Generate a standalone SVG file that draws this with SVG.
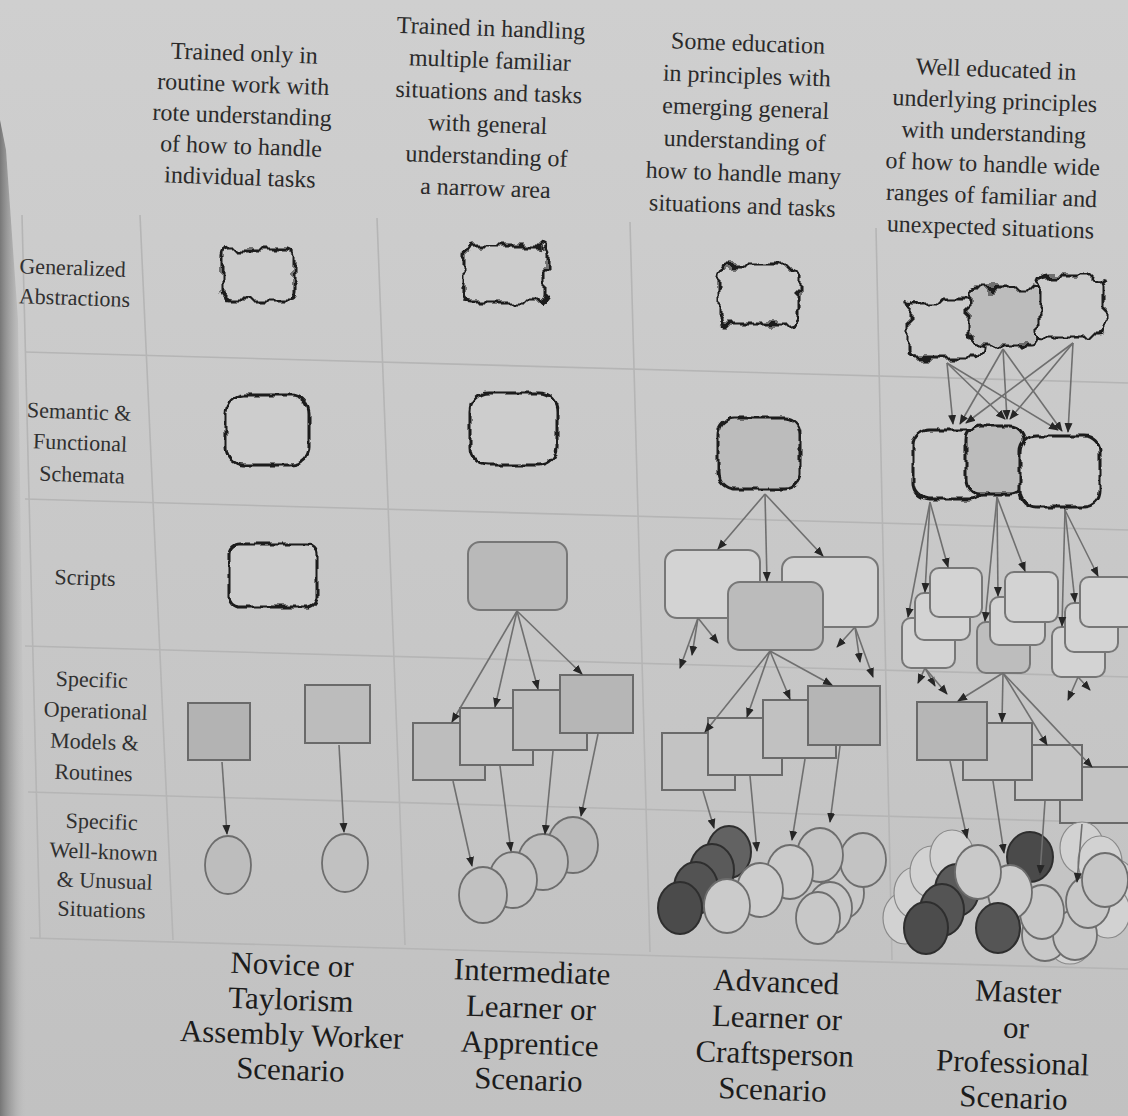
<svg xmlns="http://www.w3.org/2000/svg" width="1128" height="1116" viewBox="0 0 1128 1116">
<defs>
<linearGradient id="bgG" x1="0" y1="0" x2="0" y2="1"><stop offset="0" stop-color="#cfcfcf"/><stop offset="1" stop-color="#c1c1c1"/></linearGradient>
<linearGradient id="edgeG" x1="0" y1="0" x2="1" y2="0"><stop offset="0" stop-color="#6e6e6e" stop-opacity="0.9"/><stop offset="0.45" stop-color="#8f8f8f" stop-opacity="0.5"/><stop offset="1" stop-color="#c6c6c6" stop-opacity="0"/></linearGradient>
<filter id="rough1" x="-30%" y="-30%" width="160%" height="160%"><feTurbulence type="fractalNoise" baseFrequency="0.065" numOctaves="2" seed="7" result="n"/><feDisplacementMap in="SourceGraphic" in2="n" scale="17" xChannelSelector="R" yChannelSelector="G"/></filter>
<filter id="rough2" x="-25%" y="-25%" width="150%" height="150%"><feTurbulence type="fractalNoise" baseFrequency="0.13" numOctaves="1" seed="3" result="n"/><feDisplacementMap in="SourceGraphic" in2="n" scale="6" xChannelSelector="R" yChannelSelector="G"/></filter>
<marker id="ah" viewBox="0 0 10 10" refX="9" refY="5" markerWidth="10" markerHeight="10" markerUnits="userSpaceOnUse" orient="auto"><path d="M0,1 L10,5 L0,9 z" fill="#262626"/></marker>
</defs>
<style>
.grid line{stroke:#b5b5b5;stroke-width:1.6}
.t{font-family:"Liberation Serif","Times New Roman",serif;text-anchor:middle}
.hd{font-size:24px;fill:#2a2a2a}
.rl{font-size:22px;fill:#303030}
.bt{font-size:31px;fill:#1c1c1c}
.gen{fill:#cccccc;stroke:#1a1a1a;stroke-width:3;filter:url(#rough1)}
.sem{fill:#cdcdcd;stroke:#1a1a1a;stroke-width:3;filter:url(#rough2)}
.gray{fill:#bcbcbc}
.rr{stroke:#777777;stroke-width:2}
.lt{fill:#d3d3d3}
.md{fill:#bdbdbd}
.op{stroke:#6a6a6a;stroke-width:2}
.c{stroke:#6d6d6d;stroke-width:1.8}
.cl{fill:#c8c8c8}
.dk{stroke:#2e2e2e;stroke-width:2}
.gh{fill:#d2d2d2;stroke:#8a8a8a;stroke-width:1.2}
.edge path{fill:none;stroke:#6f6f6f;stroke-width:1.6;marker-end:url(#ah)}
</style>

<rect width="1128" height="1116" fill="url(#bgG)"/>
<polygon points="0,120 6,150 18,320 28,1116 0,1116" fill="url(#edgeG)"/>

<g class="grid">
<line x1="25" y1="352" x2="1128" y2="383"/>
<line x1="25" y1="499" x2="1128" y2="530"/>
<line x1="25" y1="646" x2="1128" y2="677"/>
<line x1="28" y1="792" x2="1128" y2="823"/>
<line x1="30" y1="938" x2="1128" y2="969"/>
<line x1="22" y1="215" x2="40" y2="938"/>
<line x1="140" y1="215" x2="173" y2="940"/>
<line x1="377" y1="218" x2="405" y2="945"/>
<line x1="630" y1="222" x2="650" y2="952"/>
<line x1="876" y1="228" x2="892" y2="960"/>
</g>

<!-- column headers -->
<g id="header-novice"><text class="t hd" transform="rotate(2 242 120)"><tspan x="242" y="61">Trained only in</tspan><tspan x="242" y="92">routine work with</tspan><tspan x="242" y="123">rote understanding</tspan><tspan x="242" y="154">of how to handle</tspan><tspan x="242" y="185">individual tasks</tspan></text></g>
<g id="header-intermediate"><text class="t hd" transform="rotate(2 488 115)"><tspan x="488" y="36">Trained in handling</tspan><tspan x="488" y="68">multiple familiar</tspan><tspan x="488" y="100">situations and tasks</tspan><tspan x="488" y="132">with general</tspan><tspan x="488" y="164">understanding of</tspan><tspan x="488" y="196">a narrow area</tspan></text></g>
<g id="header-advanced"><text class="t hd" transform="rotate(2 745 130)"><tspan x="745" y="51">Some education</tspan><tspan x="745" y="83.5">in principles with</tspan><tspan x="745" y="116">emerging general</tspan><tspan x="745" y="148.5">understanding of</tspan><tspan x="745" y="181">how to handle many</tspan><tspan x="745" y="213.5">situations and tasks</tspan></text></g>
<g id="header-master"><text class="t hd" transform="rotate(2 993 155)"><tspan x="993" y="77">Well educated in</tspan><tspan x="993" y="108.6">underlying principles</tspan><tspan x="993" y="140.2">with understanding</tspan><tspan x="993" y="171.8">of how to handle wide</tspan><tspan x="993" y="203.4">ranges of familiar and</tspan><tspan x="993" y="235">unexpected situations</tspan></text></g>

<!-- row labels -->
<g id="row-generalized"><text class="t rl" transform="rotate(2 72 285)"><tspan x="72" y="275">Generalized</tspan><tspan x="75" y="305">Abstractions</tspan></text></g>
<g id="row-semantic"><text class="t rl" transform="rotate(2 80 445)"><tspan x="78" y="419">Semantic &amp;</tspan><tspan x="80" y="450">Functional</tspan><tspan x="83" y="482">Schemata</tspan></text></g>
<g id="row-scripts"><text class="t rl" transform="rotate(2 85 580)"><tspan x="85" y="585">Scripts</tspan></text></g>
<g id="row-operational"><text class="t rl" transform="rotate(2 93 730)"><tspan x="90" y="687">Specific</tspan><tspan x="95" y="718">Operational</tspan><tspan x="95" y="749">Models &amp;</tspan><tspan x="95" y="780">Routines</tspan></text></g>
<g id="row-situations"><text class="t rl" transform="rotate(2 103 870)"><tspan x="100" y="829">Specific</tspan><tspan x="103" y="859">Well-known</tspan><tspan x="105" y="888">&amp; Unusual</tspan><tspan x="103" y="917">Situations</tspan></text></g>

<!-- bottom labels -->
<g id="label-novice"><text class="t bt" transform="rotate(2 292 1025)"><tspan x="290" y="975">Novice or</tspan><tspan x="290" y="1010">Taylorism</tspan><tspan x="292" y="1045">Assembly Worker</tspan><tspan x="292" y="1080">Scenario</tspan></text></g>
<g id="label-intermediate"><text class="t bt" transform="rotate(2 530 1035)"><tspan x="530" y="982">Intermediate</tspan><tspan x="530" y="1018">Learner or</tspan><tspan x="530" y="1054">Apprentice</tspan><tspan x="530" y="1090">Scenario</tspan></text></g>
<g id="label-advanced"><text class="t bt" transform="rotate(2 775 1045)"><tspan x="774" y="992">Advanced</tspan><tspan x="776" y="1028">Learner or</tspan><tspan x="775" y="1064">Craftsperson</tspan><tspan x="774" y="1100">Scenario</tspan></text></g>
<g id="label-master"><text class="t bt" transform="rotate(2 1014 1055)"><tspan x="1016" y="1002">Master</tspan><tspan x="1015" y="1038">or</tspan><tspan x="1013" y="1073">Professional</tspan><tspan x="1015" y="1108">Scenario</tspan></text></g>

<!-- Novice column -->
<g id="n1-gen"><rect class="gen" x="221" y="249" width="73" height="53" rx="8"/></g>
<g id="n1-sem"><rect class="sem" x="226" y="395" width="83" height="70" rx="18"/></g>
<g id="n1-script"><rect class="sem" x="229" y="544" width="88" height="63" rx="10"/></g>
<g id="n1-op1"><rect class="op" x="188" y="703" width="62" height="57" fill="#b3b3b3"/></g>
<g id="n1-op2"><rect class="op" x="305" y="685" width="65" height="58" fill="#bcbcbc"/></g>
<g id="n1-s1"><ellipse class="c" cx="228" cy="865" rx="23" ry="29" fill="#bdbdbd"/></g>
<g id="n1-s2"><ellipse class="c" cx="345" cy="863" rx="23" ry="29" fill="#c1c1c1"/></g>

<!-- Intermediate column -->
<g id="n2-gen"><rect class="gen" x="464" y="246" width="82" height="56" rx="8"/></g>
<g id="n2-sem"><rect class="sem" x="470" y="393" width="87" height="72" rx="18"/></g>
<g id="n2-script"><rect class="rr" x="468" y="542" width="99" height="68" rx="12" fill="#b9b9b9"/></g>
<g id="n2-opA"><rect class="op" x="413" y="723" width="72" height="57" fill="#bdbdbd"/></g>
<g id="n2-opB"><rect class="op" x="460" y="708" width="73" height="57" fill="#c3c3c3"/></g>
<g id="n2-opC"><rect class="op" x="513" y="690" width="74" height="60" fill="#bebebe"/></g>
<g id="n2-opD"><rect class="op" x="560" y="675" width="73" height="58" fill="#b6b6b6"/></g>
<g id="n2-s4"><ellipse class="c" cx="573" cy="845" rx="25" ry="28" fill="#bbbbbb"/></g>
<g id="n2-s3"><ellipse class="c" cx="543" cy="862" rx="25" ry="28" fill="#c0c0c0"/></g>
<g id="n2-s2"><ellipse class="c" cx="513" cy="880" rx="24" ry="28" fill="#c4c4c4"/></g>
<g id="n2-s1"><ellipse class="c" cx="483" cy="895" rx="24" ry="28" fill="#c1c1c1"/></g>

<!-- Advanced column -->
<g id="n3-gen"><rect class="gen" x="718" y="266" width="81" height="58" rx="8"/></g>
<g id="n3-sem"><rect class="sem gray" x="718" y="418" width="82" height="71" rx="16"/></g>
<g id="n3-scriptL"><rect class="rr lt" x="665" y="550" width="95" height="68" rx="12"/></g>
<g id="n3-scriptR"><rect class="rr lt" x="782" y="557" width="96" height="70" rx="12"/></g>
<g id="n3-scriptC"><rect class="rr" x="728" y="582" width="95" height="68" rx="12" fill="#bbbbbb"/></g>
<g id="n3-opA"><rect class="op" x="662" y="733" width="73" height="57" fill="#c3c3c3"/></g>
<g id="n3-opB"><rect class="op" x="708" y="718" width="74" height="57" fill="#c6c6c6"/></g>
<g id="n3-opC"><rect class="op" x="763" y="700" width="73" height="58" fill="#c1c1c1"/></g>
<g id="n3-opD"><rect class="op" x="808" y="686" width="72" height="59" fill="#b5b5b5"/></g>
<g id="n3-situations">
<ellipse class="c cl" cx="842" cy="893" rx="22" ry="26"/>
<ellipse class="c cl" cx="830" cy="908" rx="22" ry="26"/>
<ellipse class="c cl" cx="818" cy="918" rx="22" ry="26"/>
<ellipse class="dk" cx="729" cy="852" rx="22" ry="26" fill="#626262"/>
<ellipse class="dk" cx="712" cy="870" rx="22" ry="26" fill="#5a5a5a"/>
<ellipse class="dk" cx="696" cy="888" rx="22" ry="26" fill="#535353"/>
<ellipse class="dk" cx="680" cy="908" rx="22" ry="26" fill="#4b4b4b"/>
<ellipse class="c" cx="863" cy="860" rx="23" ry="27" fill="#c3c3c3"/>
<ellipse class="c" cx="820" cy="855" rx="23" ry="27" fill="#c3c3c3"/>
<ellipse class="c" cx="790" cy="872" rx="23" ry="27" fill="#cacaca"/>
<ellipse class="c" cx="760" cy="890" rx="23" ry="27" fill="#cdcdcd"/>
<ellipse class="c" cx="727" cy="906" rx="23" ry="27" fill="#cbcbcb"/>
</g>

<!-- Master column -->
<g id="n4-genL"><rect class="gen" x="908" y="301" width="76" height="56" rx="8"/></g>
<g id="n4-genM"><rect class="gen gray" x="969" y="288" width="72" height="56" rx="8"/></g>
<g id="n4-genR"><rect class="gen" x="1038" y="276" width="66" height="61" rx="8"/></g>
<g id="n4-semL"><rect class="sem" x="913" y="430" width="72" height="69" rx="16"/></g>
<g id="n4-semM"><rect class="sem gray" x="966" y="426" width="58" height="68" rx="14"/></g>
<g id="n4-semR"><rect class="sem" x="1020" y="436" width="80" height="71" rx="16"/></g>
<g id="n4-script1">
<rect class="rr lt" x="902" y="618" width="53" height="50" rx="9"/>
<rect class="rr lt" x="915" y="593" width="55" height="47" rx="9"/>
<rect class="rr lt" x="930" y="568" width="52" height="49" rx="9"/>
</g>
<g id="n4-script2">
<rect class="rr" x="977" y="622" width="53" height="51" rx="9" fill="#bdbdbd"/>
<rect class="rr lt" x="990" y="597" width="55" height="48" rx="9"/>
<rect class="rr lt" x="1005" y="572" width="53" height="50" rx="9"/>
</g>
<g id="n4-script3">
<rect class="rr lt" x="1052" y="627" width="53" height="50" rx="9"/>
<rect class="rr lt" x="1065" y="603" width="53" height="49" rx="9"/>
<rect class="rr lt" x="1080" y="577" width="55" height="50" rx="9"/>
</g>
<g id="n4-opD"><rect class="op" x="1060" y="767" width="72" height="56" fill="#c3c3c3"/></g>
<g id="n4-opC"><rect class="op" x="1015" y="745" width="67" height="55" fill="#c6c6c6"/></g>
<g id="n4-opB"><rect class="op" x="963" y="723" width="69" height="57" fill="#c3c3c3"/></g>
<g id="n4-opA"><rect class="op" x="917" y="702" width="70" height="58" fill="#b6b6b6"/></g>
<g id="n4-situations">
<ellipse class="gh" cx="905" cy="918" rx="22" ry="26"/>
<ellipse class="gh" cx="916" cy="893" rx="22" ry="26"/>
<ellipse class="gh" cx="932" cy="872" rx="22" ry="26"/>
<ellipse class="gh" cx="952" cy="856" rx="22" ry="26"/>
<ellipse class="gh" cx="1082" cy="848" rx="22" ry="26"/>
<ellipse class="gh" cx="1100" cy="862" rx="22" ry="26"/>
<ellipse class="gh" cx="1114" cy="885" rx="22" ry="26"/>
<ellipse class="gh" cx="1108" cy="912" rx="22" ry="26"/>
<ellipse class="gh" cx="1070" cy="942" rx="22" ry="22"/>
<ellipse class="dk" cx="1030" cy="857" rx="23" ry="25" fill="#4a4a4a"/>
<ellipse class="c cl" cx="1045" cy="935" rx="23" ry="26"/>
<ellipse class="c cl" cx="1075" cy="935" rx="22" ry="25"/>
<ellipse class="c cl" cx="1088" cy="902" rx="22" ry="26"/>
<ellipse class="c" cx="1105" cy="880" rx="23" ry="27" fill="#c6c6c6"/>
<ellipse class="c cl" cx="1042" cy="912" rx="22" ry="27"/>
<ellipse class="c" cx="1010" cy="892" rx="22" ry="27" fill="#cbcbcb"/>
<ellipse class="dk" cx="998" cy="928" rx="22" ry="25" fill="#555555"/>
<ellipse class="dk" cx="957" cy="890" rx="22" ry="26" fill="#5a5a5a"/>
<ellipse class="dk" cx="942" cy="910" rx="22" ry="26" fill="#545454"/>
<ellipse class="dk" cx="926" cy="928" rx="22" ry="26" fill="#4c4c4c"/>
<ellipse class="c" cx="978" cy="872" rx="23" ry="27" fill="#c9c9c9"/>
</g>

<!-- connectors -->
<g id="connectors" class="edge">
<path d="M222,762 L227,834"/>
<path d="M339,745 L344,832"/>
<path d="M517,611 L452,722"/>
<path d="M517,611 L495,707"/>
<path d="M517,611 L538,689"/>
<path d="M517,611 L582,674"/>
<path d="M453,781 L472,866"/>
<path d="M500,766 L511,851"/>
<path d="M553,751 L545,834"/>
<path d="M598,734 L581,816"/>
<path d="M765,494 L718,549"/>
<path d="M765,494 L767,581"/>
<path d="M765,494 L823,556"/>
<path d="M698,618 L680,668"/>
<path d="M698,618 L692,655"/>
<path d="M698,618 L718,643"/>
<path d="M855,627 L837,647"/>
<path d="M855,627 L860,662"/>
<path d="M855,627 L873,677"/>
<path d="M770,651 L705,732"/>
<path d="M770,651 L747,717"/>
<path d="M770,651 L790,699"/>
<path d="M770,651 L832,685"/>
<path d="M703,791 L714,828"/>
<path d="M750,776 L757,851"/>
<path d="M805,759 L792,840"/>
<path d="M840,746 L830,822"/>
<path d="M947,363 L953,424"/>
<path d="M947,363 L1005,419"/>
<path d="M947,363 L1058,430"/>
<path d="M1003,349 L960,424"/>
<path d="M1003,349 L1007,419"/>
<path d="M1003,349 L1062,431"/>
<path d="M1073,343 L966,423"/>
<path d="M1073,343 L1010,419"/>
<path d="M1073,343 L1068,432"/>
<path d="M930,502 L948,567"/>
<path d="M930,502 L925,592"/>
<path d="M930,502 L908,617"/>
<path d="M997,497 L1025,571"/>
<path d="M997,497 L998,596"/>
<path d="M997,497 L985,621"/>
<path d="M1065,510 L1098,576"/>
<path d="M1065,510 L1075,602"/>
<path d="M1065,510 L1062,626"/>
<path d="M925,668 L918,683"/>
<path d="M925,668 L935,686"/>
<path d="M925,668 L947,694"/>
<path d="M1078,677 L1068,700"/>
<path d="M1078,677 L1090,690"/>
<path d="M1003,673 L958,701"/>
<path d="M1003,673 L1002,722"/>
<path d="M1003,673 L1047,745"/>
<path d="M1003,673 L1092,767"/>
<path d="M950,761 L967,838"/>
<path d="M993,781 L1004,853"/>
<path d="M1045,801 L1040,874"/>
<path d="M1082,824 L1077,882"/>
</g>
</svg>
